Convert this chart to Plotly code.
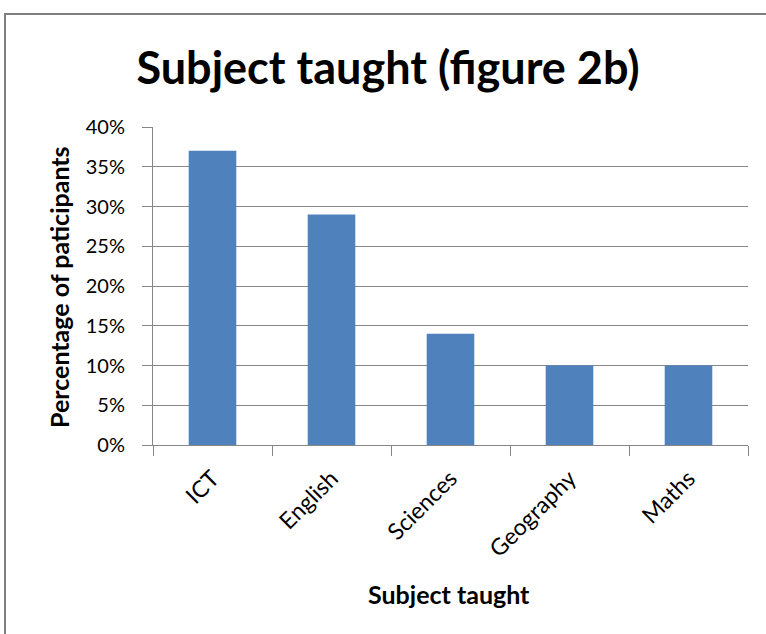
import plotly.graph_objects as go

categories = ["ICT", "English", "Sciences", "Geography", "Maths"]
values = [37, 29, 14, 10, 10]
y_tick_values = [0, 5, 10, 15, 20, 25, 30, 35, 40]
y_tick_labels = ["0%", "5%", "10%", "15%", "20%", "25%", "30%", "35%", "40%"]

W, H = 766, 634
L, R, T, B = 153, 18, 127, 189
pw, ph = W - L - R, H - T - B

def px_x(x):
    return (x - L) / pw

def px_y(y):
    return (H - B - y) / ph

FONT = "Lato"
GRAY = "#868686"

fig = go.Figure(go.Bar(
    x=categories, y=values,
    marker=dict(color="#4F81BD", line=dict(width=0)),
))

fig.update_layout(
    width=W, height=H,
    margin=dict(l=L, r=R, t=T, b=B, pad=0),
    paper_bgcolor="white", plot_bgcolor="white",
    bargap=0.6,
    showlegend=False,
    font=dict(family=FONT, color="#000000", size=20),
    title=dict(text="<b>Subject taught (figure 2b)</b>", x=388 / W, xanchor="center",
               y=1 - 68 / H, yanchor="middle", yref="container",
               font=dict(family=FONT, size=45, color="#000000")),
    xaxis=dict(showgrid=False, showline=True, linecolor=GRAY, linewidth=1,
               ticks="outside", tickson="boundaries", ticklen=10, tickcolor=GRAY,
               tickangle=-45, tickfont=dict(size=23), ticklabelstandoff=10,
               fixedrange=True),
    yaxis=dict(range=[0, 40], tickmode="array", tickvals=y_tick_values, ticktext=y_tick_labels,
               showgrid=True, gridcolor=GRAY, gridwidth=1,
               showline=True, linecolor=GRAY, linewidth=1,
               ticks="outside", ticklen=10, tickcolor=GRAY,
               tickfont=dict(size=20), ticklabelstandoff=13,
               zeroline=False, fixedrange=True),
    annotations=[
        dict(text="<b>Percentage of paticipants</b>", xref="paper", yref="paper",
             x=px_x(59), y=px_y(287), textangle=-90, showarrow=False,
             xanchor="center", yanchor="middle", font=dict(size=25)),
        dict(text="<b>Subject taught</b>", xref="paper", yref="paper",
             x=px_x(449), y=px_y(594), showarrow=False,
             xanchor="center", yanchor="middle", font=dict(size=25)),
    ],
    shapes=[
        dict(type="rect", xref="paper", yref="paper",
             x0=px_x(5), x1=px_x(770), y0=px_y(640), y1=px_y(14),
             line=dict(color="#7F7F7F", width=2), fillcolor="rgba(0,0,0,0)", layer="below"),
    ],
)

fig.write_html("out.html", config={"displayModeBar": False},
               post_script="document.body.style.margin='0';")
